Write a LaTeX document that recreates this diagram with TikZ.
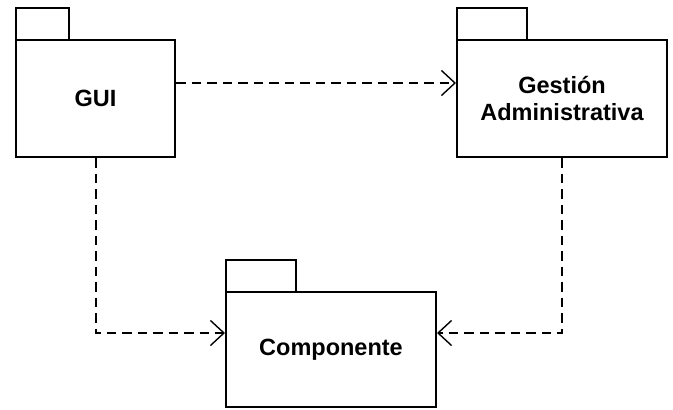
\documentclass[tikz,border=0pt]{standalone}
\usepackage{fontspec}
\setmainfont{Liberation Sans}
\usetikzlibrary{arrows.meta}

\tikzset{
  pkgbody/.style={draw=black, line width=2pt, fill=white, inner sep=0pt,
    align=center, font=\bfseries\fontsize{23.5}{27}\selectfont},
  pkgtab/.style={draw=black, line width=2pt, fill=white},
  dep/.style={draw=black, line width=2pt, dash pattern=on 9.5pt off 6pt,
    -{Straight Barb[length=13.5pt, width=25pt, line width=1.4pt]}},
}

\begin{document}
\begin{tikzpicture}[x=1pt, y=-1pt]
  \useasboundingbox (0,0) rectangle (673,410);

  % package tabs
  \draw[pkgtab] (16,8) rectangle (69,40);
  \draw[pkgtab] (457,8) rectangle (527,40);
  \draw[pkgtab] (226,260) rectangle (296,292);

  % package bodies
  \node[pkgbody, minimum width=159pt, minimum height=117pt] (gui) at (95.5,98.5) {GUI};
  \node[pkgbody, minimum width=210pt, minimum height=117pt] (gest) at (562,98.5) {Gestión\\Administrativa};
  \node[pkgbody, minimum width=210pt, minimum height=115pt] (comp) at (331,349.5) {Componente};

  % dependencies
  \draw[dep] ([yshift=15.5pt]gui.east) -- ([yshift=15.5pt]gest.west);
  \draw[dep] (gui.south) |- ([yshift=16.5pt]comp.west);
  \draw[dep] (gest.south) |- ([yshift=16.5pt]comp.east);
\end{tikzpicture}
\end{document}
